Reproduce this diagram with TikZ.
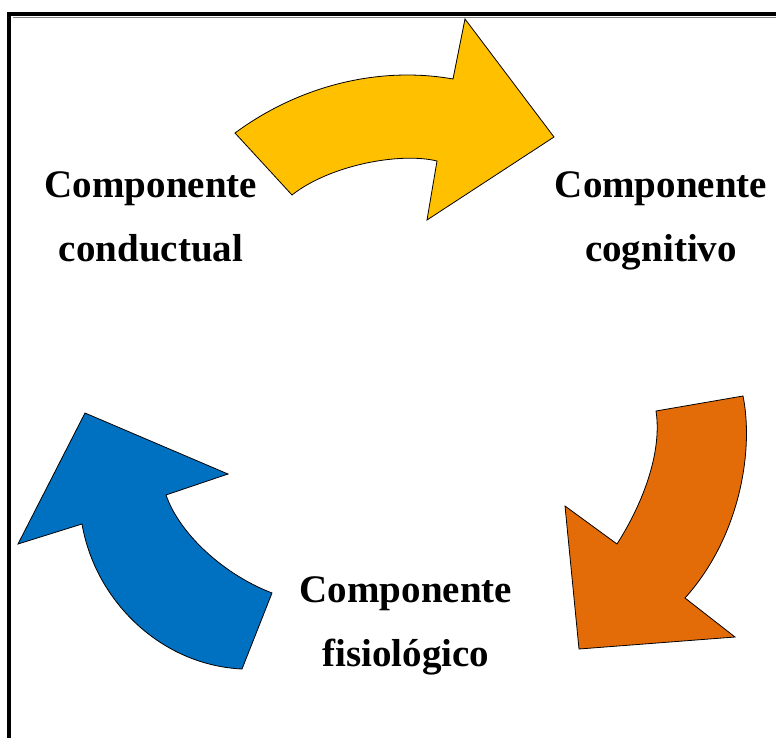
\documentclass[tikz,border=0pt]{standalone}
\usepackage{fontspec}
\setmainfont{Liberation Serif}
\definecolor{arrowyellow}{HTML}{FFC000}
\definecolor{arroworange}{HTML}{E36C09}
\definecolor{arrowblue}{HTML}{0070C0}
\tikzstyle{bentarrow}=[draw=black, line width=0.8pt, line join=miter]
\tikzstyle{component}=[align=center, font=\fontsize{39}{64}\selectfont\bfseries]
\tikzstyle{frame}=[line width=3.5pt, black]

\begin{document}
\begin{tikzpicture}[x=1pt, y=-1pt]
      \useasboundingbox (0, 0) rectangle (776, 738);

      % frame, only top and left sides show
      \draw[frame] (776, 14) -- (9, 14) -- (9, 738);
      \draw[gray, line width=1pt] (776, 17.5) -- (12.5, 17.5);

      % yellow arrow, conductual to cognitivo
      \fill[arrowyellow, bentarrow] (235, 133)
        .. controls (300, 85) and (380, 66) .. (453, 79)
        -- (465, 19) -- (554, 137) -- (427, 220) -- (437, 161)
        .. controls (400, 152) and (330, 165) .. (292, 195) -- cycle;

      % orange arrow, cognitivo to fisiologico
      \fill[arroworange, bentarrow] (743, 396)
        .. controls (754, 450) and (740, 537) .. (685, 598)
        -- (735, 637) -- (579, 649) -- (565, 506) -- (617, 544)
        .. controls (645, 500) and (662, 450) .. (656, 411) -- cycle;

      % blue arrow, fisiologico to conductual
      \fill[arrowblue, bentarrow] (242, 669)
        .. controls (160, 665) and (95, 600) .. (82, 524)
        -- (18, 544) -- (85, 413) -- (228, 474) -- (166, 495)
        .. controls (180, 535) and (225, 575) .. (272, 593) -- cycle;

      \node[component] (conductual) at (151, 217) {Componente\\conductual};
      \node[component] (cognitivo) at (661, 221) {Componente\\cognitivo};
      \node[component] (fisiologico) at (406, 626) {Componente\\fisiológico};
\end{tikzpicture}
\end{document}
